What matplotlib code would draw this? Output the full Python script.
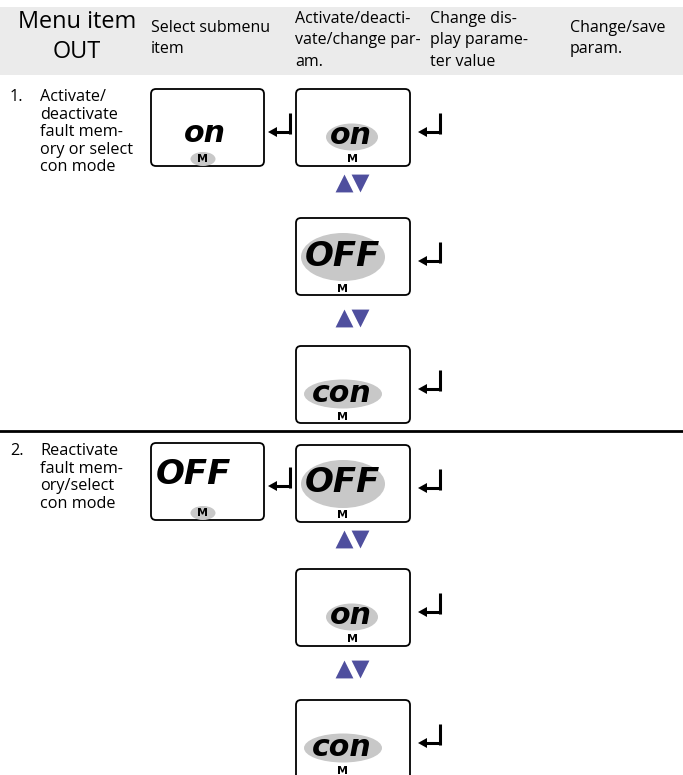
import matplotlib
matplotlib.use('Agg')
import matplotlib.pyplot as plt
from matplotlib.patches import FancyBboxPatch, Ellipse, Rectangle, Polygon

plt.rcParams['font.family'] = ['Open Sans', 'DejaVu Sans']

# --- contents ---
HEAD_MAIN = ['Menu item', 'OUT']
HEAD_COLS = [['Select submenu', 'item'],
             ['Activate/deacti-', 'vate/change par-', 'am.'],
             ['Change dis-', 'play parame-', 'ter value'],
             ['Change/save', 'param.']]
ROW_NUM = ['1.', '2.']
ROW_TXT = [['Activate/', 'deactivate', 'fault mem-', 'ory or select', 'con mode'],
           ['Reactivate', 'fault mem-', 'ory/select', 'con mode']]
SUBMENU = ['on', 'OFF']                       # display shown in column 2
OPTIONS = [['on', 'OFF', 'con'], ['OFF', 'on', 'con']]   # choices in column 3

# --- layout (pixels) ---
W, H = 683, 775
PX = 0.72                       # px -> pt at dpi 100
GREY = '#c8c8c8'
BLUE = '#4f4f9e'
HEAD_X = [151, 295, 430, 570]
ROW_Y = [89, 443]               # top of first box in each row
OPT_Y = [[89, 218, 346], [445, 569, 700]]
LCD = {'on': (30, 52, 27), 'OFF': (34, 84, 48), 'con': (30, 78, 29)}   # font px, ellipse w, h
LCD_FONT = dict(family='DejaVu Sans', weight='bold', style='oblique')

fig = plt.figure(figsize=(W / 100, H / 100), dpi=100)
ax = fig.add_axes([0, 0, 1, 1])
ax.set_xlim(0, W)
ax.set_ylim(H, 0)
ax.axis('off')


def txt(x, y, s, px, **kw):
    ax.text(x, y, s, fontsize=px * PX, va='center', **kw)


def lcd_box(x0, y0, x1, y1):
    ax.add_patch(FancyBboxPatch((x0, y0), x1 - x0, y1 - y0,
                                boxstyle='round,pad=0,rounding_size=5',
                                fc='white', ec='black', lw=1.3, zorder=2))


def lcd_text(x, y, s, fsize):
    ax.text(x, y, s, fontsize=fsize * PX, ha='center', va='center', zorder=4, **LCD_FONT)


def m_label(x, y, oval=False):
    if oval:
        ax.add_patch(Ellipse((x, y), 25, 14, fc=GREY, ec='none', zorder=3))
    ax.text(x, y + 0.5, 'M', fontsize=11 * PX, ha='center', va='center',
            family='DejaVu Sans', weight='bold', zorder=4)


def enter(xv, top):
    yh = top + 19
    ax.plot([xv, xv], [top, top + 21], color='black', lw=2.2, solid_capstyle='butt', zorder=3)
    ax.plot([xv - 15, xv + 1], [yh, yh], color='black', lw=2.2, solid_capstyle='butt', zorder=3)
    ax.add_patch(Polygon([[xv - 22, yh], [xv - 13, yh - 5], [xv - 13, yh + 5]],
                         closed=True, fc='black', ec='none', zorder=3))


def updown(y):
    ax.scatter([344], [y], marker='^', s=165, color=BLUE, lw=0, zorder=3)
    ax.scatter([360], [y], marker='v', s=165, color=BLUE, lw=0, zorder=3)


# header band
ax.add_patch(Rectangle((0, 7), W, 68, fc='#ebebeb', ec='none', zorder=0))
txt(77, 22, HEAD_MAIN[0], 23.5, ha='center')
txt(77, 52, HEAD_MAIN[1], 23.5, ha='center')
for x, lines in zip(HEAD_X, HEAD_COLS):
    y0 = 27.5 if len(lines) == 2 else 19
    for i, s in enumerate(lines):
        txt(x, y0 + i * 21.5, s, 16)

# separator between rows
ax.plot([0, W], [431, 431], color='black', lw=2, zorder=1)

for r in range(2):
    ry = ROW_Y[r]
    txt(10, ry + 8, ROW_NUM[r], 16.2)
    for i, s in enumerate(ROW_TXT[r]):
        txt(40, ry + 8 + i * 17.6, s, 16.2)

    # column 2: submenu display
    lcd_box(151, ry, 264, ry + 77)
    sx = 205 if r == 0 else 193
    lcd_text(sx, ry + 45 if r == 0 else ry + 32, SUBMENU[r], LCD[SUBMENU[r]][0])
    m_label(203, ry + 70, oval=True)
    enter(290, ry + 24)

    # column 3: option list
    for k, opt in enumerate(OPTIONS[r]):
        oy = OPT_Y[r][k]
        lcd_box(296, oy, 410, oy + 77 if not (r == 1 and k == 2) else H + 10)
        fs, ew, eh = LCD[opt]
        cx = 352 if opt == 'on' else 343
        cy = oy + (48 if opt == 'on' else 39 if opt == 'OFF' else 48)
        ax.add_patch(Ellipse((cx, cy), ew, eh, fc=GREY, ec='none', zorder=3))
        lcd_text(cx - 1, cy - 1, opt, fs)
        m_label(cx, oy + 70)
        enter(440, oy + 24)
        if k < 2:
            updown(oy + 94 if k == 0 else oy + 100)

fig.savefig('out.png', dpi=100)
